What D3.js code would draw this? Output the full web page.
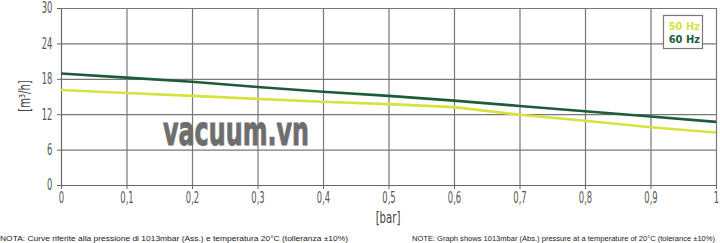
<!DOCTYPE html>
<html>
<head>
<meta charset="utf-8">
<script src="https://cdn.jsdelivr.net/npm/d3@7"></script>
<style>
  body { margin: 0; background: #fff; }
  svg { display: block; }
  .tick text { font-family: "DejaVu Sans Condensed", "DejaVu Sans", sans-serif; font-size: 15px; fill: #555; }
  .note { font-family: "Liberation Sans", Arial, sans-serif; font-size: 7.5px; fill: #222; }
</style>
</head>
<body>
<svg id="chart" width="720" height="243"></svg>
<script>
(function() {
    // chart data
    var pressure = [0, 0.1, 0.2, 0.3, 0.4, 0.5, 0.6, 0.7, 0.8, 0.9, 1]
    var flow50 = [16.1, 15.6, 15.1, 14.6, 14.1, 13.7, 13.2, 11.9, 10.9, 9.8, 8.9]
    var flow60 = [18.9, 18.2, 17.5, 16.6, 15.8, 15.1, 14.3, 13.4, 12.5, 11.6, 10.7]
    var xTicks = [0, 0.1, 0.2, 0.3, 0.4, 0.5, 0.6, 0.7, 0.8, 0.9, 1]
    var yTicks = [0, 6, 12, 18, 24, 30]
    var seriesNames = ["50 Hz", "60 Hz"]
    var seriesColors = ["#d6e23e", "#1d5c38"]

    var svg = d3.select("#chart")

    var x = d3.scaleLinear().domain([0, 1]).range([61, 716])
    var y = d3.scaleLinear().domain([0, 30]).range([185, 8])

    var fmtX = function(d) { return d === 0 || d === 1 ? String(d) : String(d).replace(".", ",") }

    // grid
    svg.append("g")
        .attr("transform", "translate(0,185)")
        .call(d3.axisBottom(x).tickValues(xTicks).tickSize(-177).tickFormat(""))
        .call(g => g.select(".domain").remove())
        .selectAll("line").attr("stroke", "#777").attr("stroke-width", 1.2)
    svg.append("g")
        .attr("transform", "translate(61,0)")
        .call(d3.axisLeft(y).tickValues(yTicks).tickSize(-655).tickFormat(""))
        .call(g => g.select(".domain").remove())
        .selectAll("line").attr("stroke", "#777").attr("stroke-width", 1.2)

    // axes with small outer ticks + labels
    var xAxis = svg.append("g")
        .attr("transform", "translate(0,185)")
        .call(d3.axisBottom(x).tickValues(xTicks).tickSize(4).tickPadding(3).tickFormat(fmtX))
    xAxis.select(".domain").attr("stroke", "#666")
    xAxis.selectAll("line").attr("stroke", "#666")
    xAxis.selectAll("text").attr("transform", "scale(0.62,1)")

    var yAxis = svg.append("g")
        .attr("transform", "translate(61,0)")
        .call(d3.axisLeft(y).tickValues(yTicks).tickSize(4).tickPadding(0).tickFormat(d3.format("d")))
    yAxis.select(".domain").attr("stroke", "#666")
    yAxis.selectAll("line").attr("stroke", "#666")
    yAxis.selectAll("text").attr("x", -14).attr("transform", "scale(0.62,1)")

    // axis titles
    svg.append("text")
        .attr("transform", "translate(30,96) rotate(-90) scale(0.75,1)")
        .attr("text-anchor", "middle")
        .style("font-family", "DejaVu Sans Condensed, sans-serif")
        .style("font-size", "15px")
        .attr("fill", "#444")
        .text("[m³/h]")
    svg.append("text")
        .attr("transform", "translate(388,223) scale(0.75,1)")
        .attr("text-anchor", "middle")
        .style("font-family", "DejaVu Sans Condensed, sans-serif")
        .style("font-size", "15px")
        .attr("fill", "#444")
        .text("[bar]")

    // watermark
    svg.append("text")
        .attr("x", 163).attr("y", 145)
        .attr("textLength", 146).attr("lengthAdjust", "spacingAndGlyphs")
        .style("font-family", "DejaVu Sans, sans-serif")
        .style("font-weight", "bold")
        .style("font-size", "40px")
        .attr("fill", "#6e6e6e")
        .attr("stroke", "#6e6e6e").attr("stroke-width", 1)
        .text("vacuum.vn")

    // curves
    var line = d3.line()
        .x((d, i) => x(pressure[i]))
        .y(d => y(d))
    ;[flow50, flow60].forEach(function(s, i) {
        svg.append("path")
            .attr("d", line(s))
            .attr("fill", "none")
            .attr("stroke", seriesColors[i])
            .attr("stroke-width", 2.6)
    })

    // legend
    svg.append("rect")
        .attr("x", 663.5).attr("y", 15.5).attr("width", 39).attr("height", 33)
        .attr("fill", "#fff").attr("stroke", "#777").attr("stroke-width", 1.2)
    seriesNames.forEach(function(n, i) {
        svg.append("text")
            .attr("x", 700).attr("y", 30 + i * 13)
            .attr("text-anchor", "end")
            .style("font-family", "DejaVu Sans Condensed, sans-serif")
            .style("font-weight", "bold")
            .style("font-size", "11px")
            .attr("fill", seriesColors[i])
            .text(n)
    })

    // footnotes
    svg.append("text").attr("class", "note")
        .attr("x", 0).attr("y", 240.5)
        .attr("textLength", 348).attr("lengthAdjust", "spacingAndGlyphs")
        .text("NOTA:  Curve riferite alla pressione di 1013mbar (Ass.) e temperatura 20°C (tolleranza ±10%)")
    svg.append("text").attr("class", "note")
        .attr("x", 412).attr("y", 240.5)
        .attr("textLength", 303).attr("lengthAdjust", "spacingAndGlyphs")
        .text("NOTE:  Graph shows 1013mbar (Abs.) pressure at a temperature of 20°C (tolerance ±10%)")
})();
</script>
</body>
</html>
